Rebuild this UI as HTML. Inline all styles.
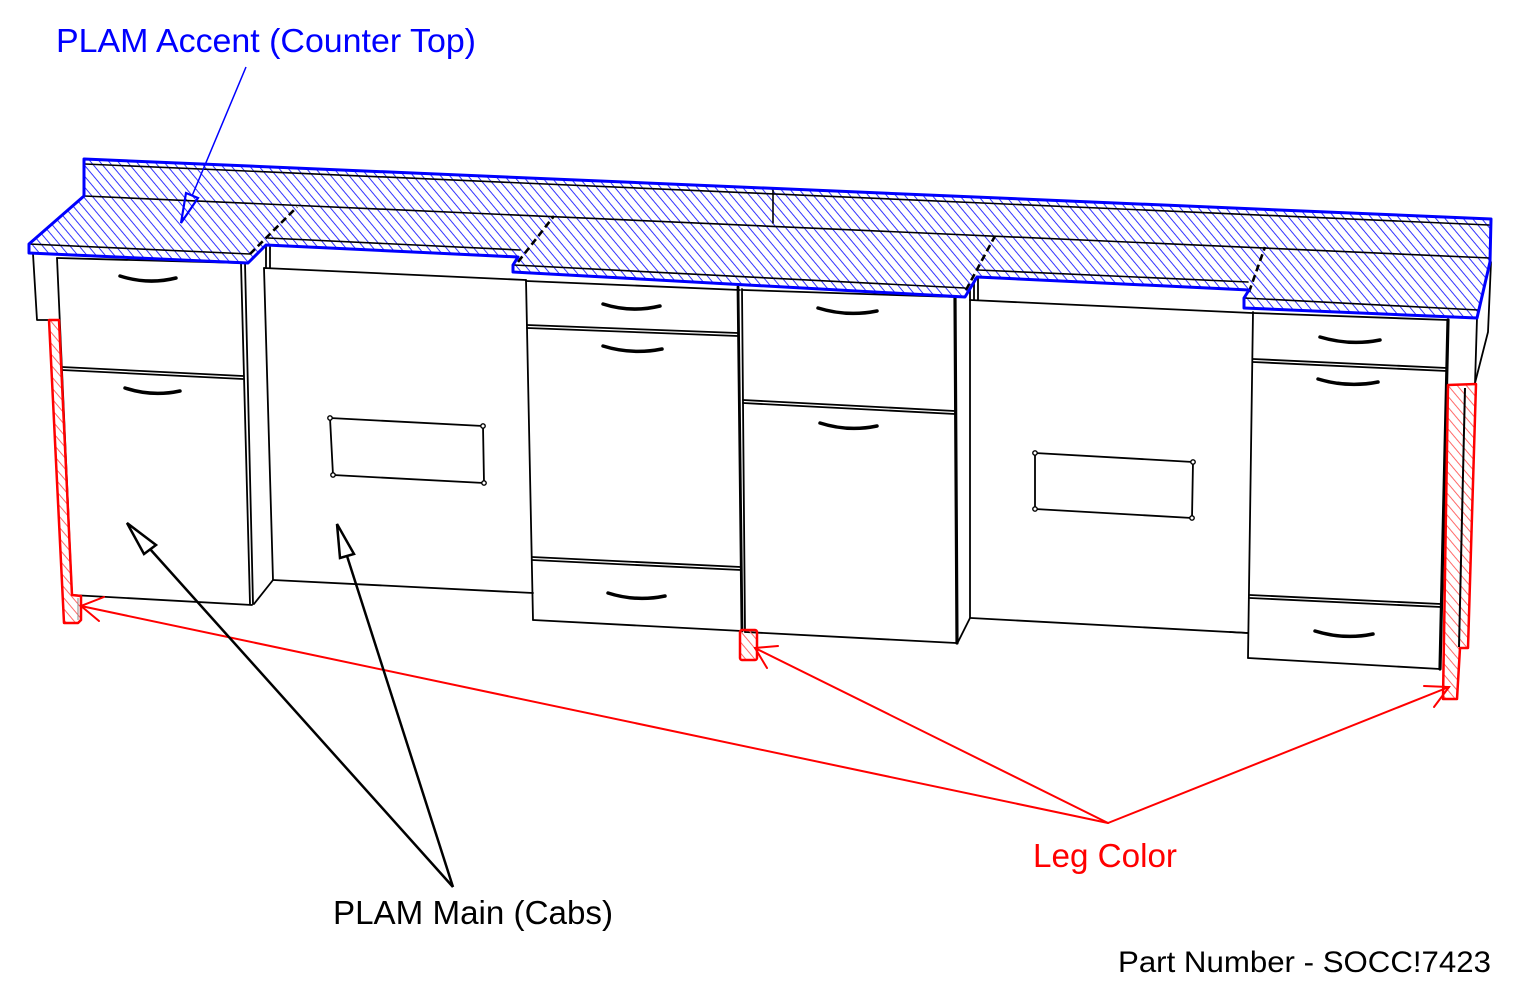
<!DOCTYPE html>
<html><head><meta charset="utf-8">
<style>html,body{margin:0;padding:0;background:#fff}svg{display:block}</style>
</head>
<body>
<svg width="1516" height="998" viewBox="0 0 1516 998" xmlns="http://www.w3.org/2000/svg">
<defs>
<pattern id="hb" patternUnits="userSpaceOnUse" width="7" height="7" patternTransform="rotate(-40)">
<line x1="0.5" y1="0" x2="0.5" y2="7" stroke="#3434ff" stroke-width="1"/>
</pattern>
<pattern id="hr" patternUnits="userSpaceOnUse" width="7" height="7" patternTransform="rotate(-40)">
<line x1="0.5" y1="0" x2="0.5" y2="7" stroke="#ff6a6a" stroke-width="1"/>
</pattern>
</defs>
<rect width="1516" height="998" fill="#fff"/>

<!-- ===== Cabinets ===== -->
<g fill="none" stroke="#000" stroke-width="1.8" stroke-linecap="round" stroke-linejoin="round">
<polyline points="33,254 37,320 49,320"/>
<line x1="57" y1="258" x2="72" y2="595"/>
<line x1="57" y1="258" x2="241" y2="263"/>
<line x1="62" y1="367" x2="243" y2="376"/>
<line x1="62" y1="370" x2="243" y2="379"/>
<line x1="72" y1="595" x2="252" y2="605"/>
<line x1="241" y1="263" x2="250" y2="604"/>
<line x1="245" y1="263" x2="253" y2="604"/>
<line x1="264" y1="268" x2="273" y2="580"/>
<line x1="273" y1="580" x2="254" y2="604"/>
<line x1="266" y1="246" x2="266" y2="268"/>
<line x1="270" y1="247" x2="270" y2="268"/>
<line x1="264" y1="268" x2="526" y2="280"/>
<line x1="273" y1="580" x2="533" y2="593"/>
<polygon points="330,418 483,426 484,483 333,475"/>
<line x1="526" y1="280" x2="533" y2="620"/>
<line x1="526" y1="281" x2="740" y2="290"/>
<line x1="527" y1="325" x2="738" y2="333"/>
<line x1="527" y1="328" x2="738" y2="336"/>
<line x1="532" y1="557" x2="741" y2="567"/>
<line x1="532" y1="560" x2="741" y2="570"/>
<line x1="533" y1="620" x2="742" y2="631"/>
<line x1="738" y1="287" x2="742" y2="631" stroke-width="2.8"/>
<line x1="742" y1="289" x2="745" y2="632"/>
<line x1="743" y1="290" x2="955" y2="297"/>
<line x1="743" y1="400" x2="955" y2="411"/>
<line x1="743" y1="403" x2="955" y2="414"/>
<line x1="745" y1="632" x2="956" y2="643"/>
<line x1="955" y1="297" x2="957" y2="643" stroke-width="3.2"/>
<line x1="970" y1="300" x2="970" y2="618"/>
<line x1="970" y1="618" x2="958" y2="642"/>
<line x1="970" y1="277" x2="970" y2="300"/>
<line x1="974" y1="277" x2="974" y2="300"/>
<line x1="978" y1="278" x2="978" y2="300"/>
<line x1="970" y1="300" x2="1252" y2="313"/>
<line x1="971" y1="618" x2="1248" y2="633"/>
<line x1="1230" y1="632" x2="1248" y2="633"/>
<polygon points="1035,453 1193,462 1192,518 1035,509"/>
<line x1="1253" y1="312" x2="1248" y2="658"/>
<line x1="1253" y1="313" x2="1448" y2="320"/>
<line x1="1253" y1="359" x2="1447" y2="368"/>
<line x1="1253" y1="362" x2="1447" y2="371"/>
<line x1="1250" y1="595" x2="1441" y2="604"/>
<line x1="1250" y1="598" x2="1441" y2="607"/>
<line x1="1248" y1="658" x2="1440" y2="669"/>
<line x1="1448" y1="320" x2="1440" y2="669" stroke-width="3.2"/>
<line x1="1477" y1="318" x2="1475" y2="384"/>
<polyline points="1491,262 1488,332 1475,383"/>
</g>

<g fill="#fff" stroke="#000" stroke-width="1.4">
<circle cx="330" cy="418" r="2.2"/><circle cx="483" cy="426" r="2.2"/>
<circle cx="484" cy="483" r="2.2"/><circle cx="333" cy="475" r="2.2"/>
<circle cx="1035" cy="453" r="2.2"/><circle cx="1193" cy="462" r="2.2"/>
<circle cx="1192" cy="518" r="2.2"/><circle cx="1035" cy="509" r="2.2"/>
</g>

<g fill="none" stroke="#000" stroke-width="3.5" stroke-linecap="round">
<path d="M120 276 Q148 285 176 278"/>
<path d="M125 388 Q152 397 180 391"/>
<path d="M603 304 Q631 313 660 306"/>
<path d="M603 346 Q632 355 662 349"/>
<path d="M608 593 Q636 602 665 596"/>
<path d="M818 308 Q847 317 877 311"/>
<path d="M820 423 Q848 432 877 426"/>
<path d="M1320 337 Q1350 346 1380 340"/>
<path d="M1318 379 Q1348 388 1378 382"/>
<path d="M1315 631 Q1344 640 1373 634"/>
</g>

<!-- ===== Counter top ===== -->
<polygon points="84,159 1491,219 1490,262 1477,318 1244,308 1244,298 1249,290 977,277 965,297 513,272 513,265 518,257 266,245 248,263 29,253 29,244 84,196" fill="#fff"/>
<polygon points="84,159 1491,219 1490,262 1477,318 1244,308 1244,298 1249,290 977,277 965,297 513,272 513,265 518,257 266,245 248,263 29,253 29,244 84,196" fill="url(#hb)"/>
<g fill="none" stroke="#000" stroke-width="1.6" stroke-linecap="round">
<line x1="85" y1="164" x2="1489" y2="225"/>
<line x1="84" y1="196" x2="1490" y2="258"/>
<line x1="29" y1="244" x2="250" y2="254"/>
<line x1="268" y1="238" x2="520" y2="250"/>
<line x1="514" y1="265" x2="965" y2="288"/>
<line x1="978" y1="270" x2="1248" y2="282"/>
<line x1="1244" y1="298" x2="1478" y2="310"/>
<line x1="773" y1="190" x2="773" y2="223"/>
</g>
<g fill="none" stroke="#000" stroke-width="2.6" stroke-dasharray="7 4">
<line x1="250" y1="254" x2="297" y2="207"/>
<line x1="518" y1="262" x2="554" y2="216"/>
<line x1="966" y1="290" x2="995" y2="236"/>
<line x1="1249" y1="292" x2="1265" y2="247"/>
</g>
<polygon points="84,159 1491,219 1490,262 1477,318 1244,308 1244,298 1249,290 977,277 965,297 513,272 513,265 518,257 266,245 248,263 29,253 29,244 84,196" fill="none" stroke="#0000ff" stroke-width="3" stroke-linejoin="round"/>

<!-- ===== Legs ===== -->
<polygon points="49,320 59,320 72,595 81,596 81,620 78,623 64,623" fill="url(#hr)"/>
<line x1="78" y1="598" x2="78" y2="620" stroke="#888" stroke-width="1"/>
<polygon points="49,320 59,320 72,595 81,596 81,620 78,623 64,623" fill="none" stroke="#ff0000" stroke-width="2.5" stroke-linejoin="round"/>

<rect x="740" y="630" width="17" height="30" rx="2" fill="url(#hr)" stroke="#ff0000" stroke-width="2.5"/>

<polygon points="1448,385 1476,384 1468,648 1460,648 1457,699 1443,699" fill="url(#hr)"/>
<line x1="1465" y1="388" x2="1459" y2="647" stroke="#000" stroke-width="2"/>
<polygon points="1448,385 1476,384 1468,648 1460,648 1457,699 1443,699" fill="none" stroke="#ff0000" stroke-width="2.5" stroke-linejoin="round"/>

<!-- ===== Red arrows ===== -->
<g fill="none" stroke="#ff0000" stroke-width="2" stroke-linecap="round">
<line x1="1108" y1="823" x2="81" y2="606"/>
<polyline points="104,597 81,606 99,621"/>
<line x1="1108" y1="823" x2="755" y2="648"/>
<polyline points="778,646 755,648 767,668"/>
<line x1="1108" y1="823" x2="1449" y2="687"/>
<polyline points="1424,686 1449,687 1434,707"/>
</g>

<!-- ===== Black arrows ===== -->
<g fill="none" stroke="#000" stroke-width="2.5" stroke-linejoin="miter">
<line x1="453" y1="887" x2="150" y2="549"/>
<polygon points="127,523 156,545 144,554" fill="#fff"/>
<line x1="453" y1="887" x2="347" y2="556"/>
<polygon points="337,524 354,554 340,558" fill="#fff"/>
</g>

<!-- ===== Blue arrow ===== -->
<line x1="246" y1="67" x2="192" y2="196" stroke="#0000ff" stroke-width="1.5"/>
<polygon points="181,223 186,193 198,198" fill="none" stroke="#0000ff" stroke-width="2.2"/>

<!-- ===== Text ===== -->
<g font-family="'Liberation Sans', Arial, sans-serif">
<text x="56" y="52" font-size="33" fill="#0000ff" textLength="420" lengthAdjust="spacingAndGlyphs">PLAM Accent (Counter Top)</text>
<text x="333" y="924" font-size="33" fill="#000" textLength="280" lengthAdjust="spacingAndGlyphs">PLAM Main (Cabs)</text>
<text x="1033" y="867" font-size="33" fill="#ff0000" textLength="144" lengthAdjust="spacingAndGlyphs">Leg Color</text>
<text x="1118" y="972" font-size="30" fill="#000" textLength="373" lengthAdjust="spacingAndGlyphs">Part Number - SOCC!7423</text>
</g>
</svg>
</body></html>
